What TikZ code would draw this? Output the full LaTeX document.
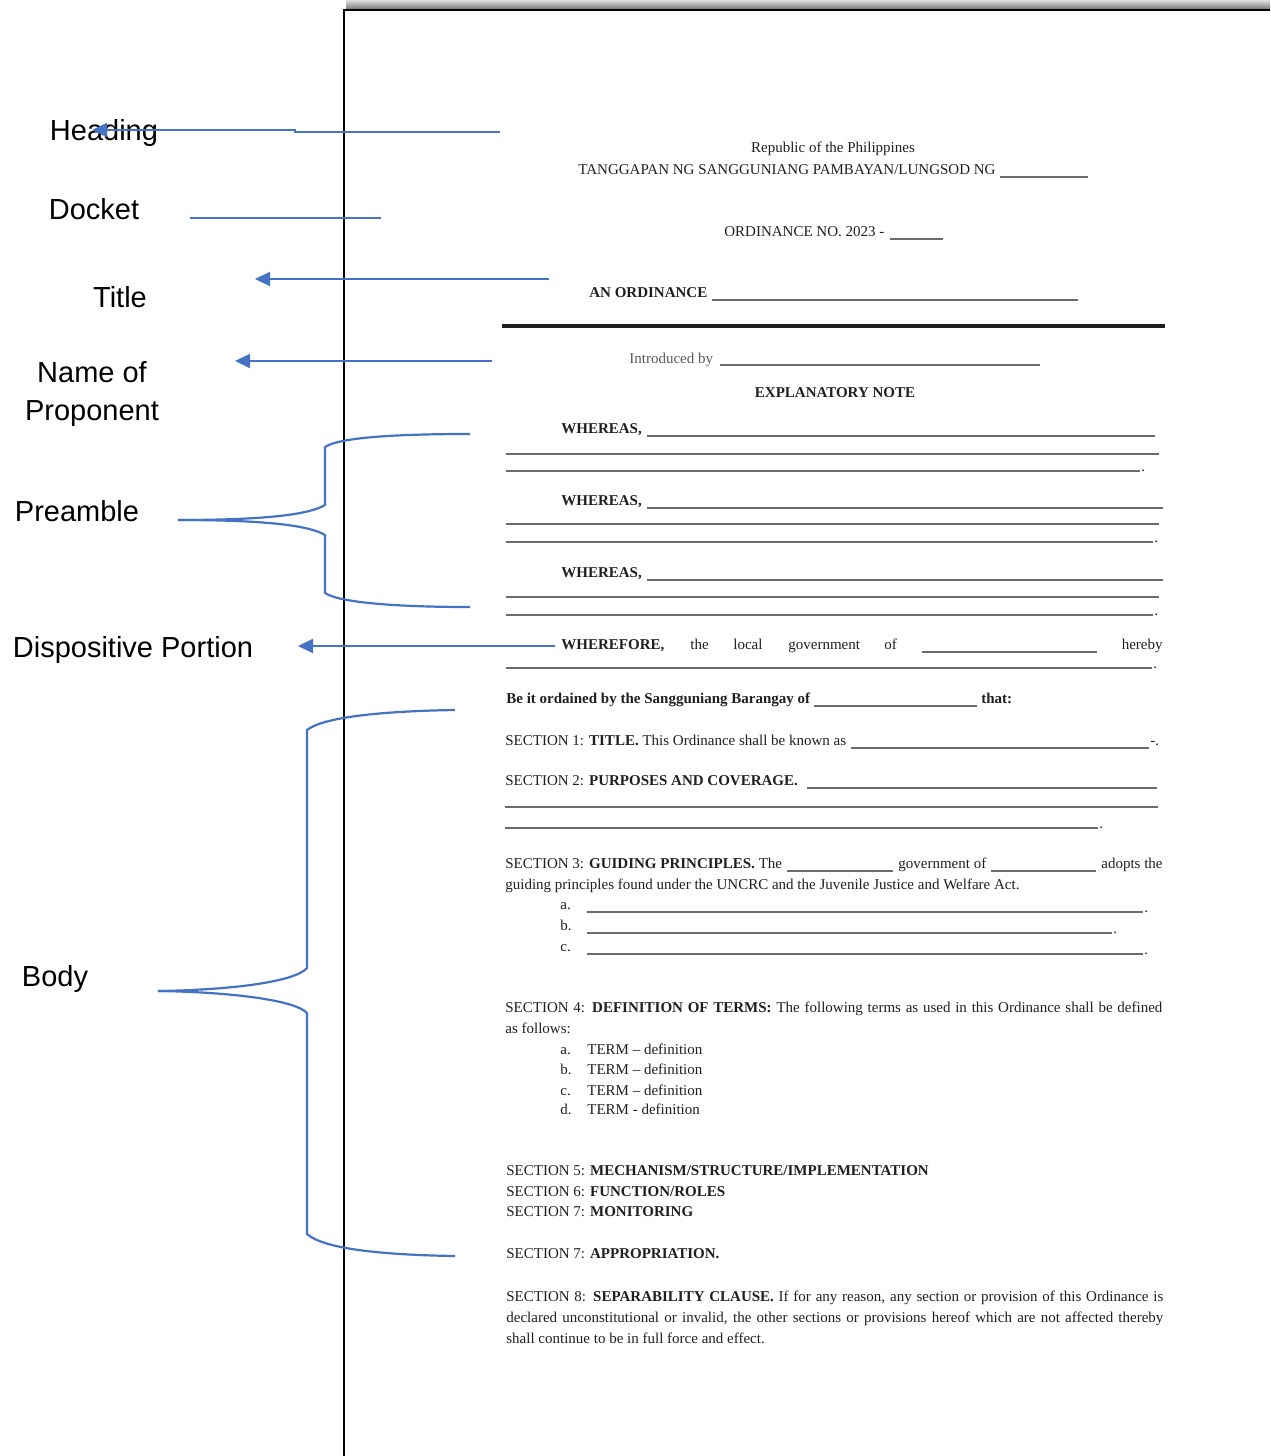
\documentclass[tikz,border=0pt]{standalone}
\usepackage{fontspec}
\setmainfont{Liberation Serif}
\newfontfamily\labelsans{Liberation Sans}
\usetikzlibrary{arrows.meta}
\definecolor{callblue}{HTML}{4472C4}
\definecolor{ink}{gray}{0.12}
\definecolor{rulegray}{gray}{0.42}
\newcommand{\docfont}{\fontsize{7.5}{9}\selectfont}
\newcommand{\tagfont}{\labelsans\fontsize{14.5}{18}\selectfont}
\newcommand{\justline}[1]{\makebox[328.5pt][s]{#1}}

\begin{document}
\begin{tikzpicture}[x=0.5pt,y=-0.5pt,
  tag/.style={font=\tagfont, text=black, inner sep=0pt, anchor=base},
  doc/.style={font=\docfont, text=ink, inner sep=0pt, anchor=base west},
  docb/.style={doc, font=\docfont\bfseries},
  docc/.style={doc, anchor=base},
  doce/.style={doc, anchor=base east},
  blank/.style={draw=rulegray, line width=0.75pt},
  callout/.style={draw=callblue, line width=1pt, -{Triangle[length=7.5pt,width=7pt]}},
  leader/.style={draw=callblue, line width=1pt},
  brace/.style={draw=callblue, line width=1.1pt, line join=round},
]
\useasboundingbox (0,0) rectangle (1270,1456);

% ---------- the ordinance sheet ----------
\shade[top color=black!12, bottom color=black!55] (346,0) rectangle (1270,9.5);
\draw[black, line width=1pt] (344,1456) -- (344,10) -- (1270,10);

% header
\node[docc] (rep) at (833,152) {Republic of the Philippines};
\node[doc] (tang) at (578,174) {TANGGAPAN NG SANGGUNIANG PAMBAYAN/LUNGSOD NG};
\draw[blank] (tang.base east) ++(4,3) -- (1088,177);
\node[doc] (ordno) at (724,236) {ORDINANCE NO. 2023 -};
\draw[blank] (ordno.base east) ++(5,3) -- (943,239);
\node[docb] (anord) at (589,297) {AN ORDINANCE};
\draw[blank] (anord.base east) ++(4,3) -- (1078,300);
\draw[ink, line width=1.6pt] (502,326) -- (1165,326);
\node[doc, text=black!65] (intro) at (629,363) {Introduced by};
\draw[blank] (intro.base east) ++(6,2) -- (1040,365);
\node[docc, font=\docfont\bfseries] (expl) at (835,397) {EXPLANATORY NOTE};

% whereas clauses
\node[docb] (wh1) at (561,433) {WHEREAS,};
\draw[blank] (wh1.base east) ++(5,3) -- (1155,436);
\draw[blank] (506,454) -- (1159,454);
\draw[blank] (506,471) -- (1140,471);
\node[doc] (dot1) at (1141,471) {.};

\node[docb] (wh2) at (561,505) {WHEREAS,};
\draw[blank] (wh2.base east) ++(5,3) -- (1163,508);
\draw[blank] (506,524) -- (1159,524);
\draw[blank] (506,542) -- (1153,542);
\node[doc] (dot2) at (1154,542) {.};

\node[docb] (wh3) at (561,577) {WHEREAS,};
\draw[blank] (wh3.base east) ++(5,3) -- (1163,580);
\draw[blank] (506,597) -- (1159,597);
\draw[blank] (506,615) -- (1153,615);
\node[doc] (dot3) at (1154,615) {.};

% wherefore
\node[docb] (wf) at (561,649) {WHEREFORE,};
\node[doc] (wf1) at (690,649) {the};
\node[doc] (wf2) at (733,649) {local};
\node[doc] (wf3) at (788,649) {government};
\node[doc] (wf4) at (884,649) {of};
\draw[blank] (922,652) -- (1097,652);
\node[doce] (wf5) at (1163,649) {hereby};
\draw[blank] (506,668) -- (1152,668);
\node[doc] (dot4) at (1153,668) {.};

\node[docb] (ordain) at (506,703) {Be it ordained by the Sangguniang Barangay of};
\draw[blank] (ordain.base east) ++(3,3) -- (977,706);
\node[docb] (that) at (981,703) {that:};

% sections
\node[doc] (s1) at (505,745) {SECTION 1: \textbf{TITLE.} This Ordinance shall be known as};
\draw[blank] (s1.base east) ++(4,3) -- (1149,748);
\node[doc] (s1e) at (1150,745) {-.};

\node[doc] (s2) at (505,785) {SECTION 2: \textbf{PURPOSES AND COVERAGE.}};
\draw[blank] (807,788) -- (1157,788);
\draw[blank] (505,807) -- (1158,807);
\draw[blank] (505,828) -- (1098,828);
\node[doc] (dot5) at (1099,828) {.};

\node[doc] (s3) at (505,868) {SECTION 3: \textbf{GUIDING PRINCIPLES.} The};
\draw[blank] (787,871) -- (893,871);
\node[doc] (s3b) at (898,868) {government of};
\draw[blank] (991,871) -- (1096,871);
\node[doce] (s3c) at (1163,868) {adopts the};
\node[doc] (s3d) at (505,889) {guiding principles found under the UNCRC and the Juvenile Justice and Welfare Act.};
\node[doc] (pa) at (560,909) {a.};
\draw[blank] (587,912) -- (1143,912);
\node[doc] (dot6) at (1144,912) {.};
\node[doc] (pb) at (560,930) {b.};
\draw[blank] (587,933) -- (1112,933);
\node[doc] (dot7) at (1113,933) {.};
\node[doc] (pc) at (560,951) {c.};
\draw[blank] (587,954) -- (1143,954);
\node[doc] (dot8) at (1144,954) {.};

\node[doc] (s4) at (505,1012) {\justline{SECTION 4: \textbf{DEFINITION OF TERMS:} The following terms as used in this Ordinance shall be defined}};
\node[doc] (s4b) at (505,1033) {as follows:};
\node[doc] (ta) at (560,1054) {a.};
\node[doc] (tat) at (587,1054) {TERM -- definition};
\node[doc] (tb) at (560,1074) {b.};
\node[doc] (tbt) at (587,1074) {TERM -- definition};
\node[doc] (tc) at (560,1095) {c.};
\node[doc] (tct) at (587,1095) {TERM -- definition};
\node[doc] (td) at (560,1114) {d.};
\node[doc] (tdt) at (587,1114) {TERM - definition};

\node[doc] (s5) at (506,1175) {SECTION 5: \textbf{MECHANISM/STRUCTURE/IMPLEMENTATION}};
\node[doc] (s6) at (506,1196) {SECTION 6: \textbf{FUNCTION/ROLES}};
\node[doc] (s7) at (506,1216) {SECTION 7: \textbf{MONITORING}};
\node[doc] (s7b) at (506,1258) {SECTION 7: \textbf{APPROPRIATION.}};

\node[doc] (s8a) at (506,1301) {\justline{SECTION 8: \textbf{SEPARABILITY CLAUSE.} If for any reason, any section or provision of this Ordinance is}};
\node[doc] (s8b) at (506,1322) {\justline{declared unconstitutional or invalid, the other sections or provisions hereof which are not affected thereby}};
\node[doc] (s8c) at (506,1343) {shall continue to be in full force and effect.};

% ---------- part labels and callouts ----------
\node[tag] (lHead) at (104,140) {Heading};
\node[tag] (lDock) at (94,219) {Docket};
\node[tag] (lTitle) at (120,307) {Title};
\node[tag] (lNameA) at (92,382) {Name of};
\node[tag] (lNameB) at (92,420) {Proponent};
\node[tag] (lPre) at (77,521) {Preamble};
\node[tag] (lDisp) at (133,657) {Dispositive Portion};
\node[tag] (lBody) at (55,986) {Body};

\coordinate (hSrc) at (500,132);
\coordinate (hTip) at (92,130);
\draw[callout] (hSrc) -- (295,132) -- (295,130) -- (hTip);

\coordinate (dkA) at (190,218);
\coordinate (dkB) at (381,218);
\draw[leader] (dkA) -- (dkB);

\coordinate (tSrc) at (549,279);
\coordinate (tTip) at (255,279);
\draw[callout] (tSrc) -- (tTip);

\coordinate (nSrc) at (492,361);
\coordinate (nTip) at (235,361);
\draw[callout] (nSrc) -- (nTip);

\coordinate (dpSrc) at (555,646);
\coordinate (dpTip) at (298,646);
\draw[callout] (dpSrc) -- (dpTip);

% preamble brace
\coordinate (prTip) at (178,520);
\coordinate (prTop) at (470,434);
\coordinate (prBot) at (470,607);
\draw[brace] (prTop) .. controls (400,434) and (340,437) .. (325,447) -- (325,505) .. controls (310,514) and (270,520) .. (prTip);
\draw[brace] (prTip) .. controls (270,520) and (310,526) .. (325,535) -- (325,593) .. controls (340,603) and (400,607) .. (prBot);

% body brace
\coordinate (bdTip) at (158,991);
\coordinate (bdTop) at (455,710);
\coordinate (bdBot) at (455,1256);
\draw[brace] (bdTop) .. controls (390,711) and (325,716) .. (307,730) -- (307,968) .. controls (295,982) and (230,990) .. (bdTip);
\draw[brace] (bdTip) .. controls (230,992) and (295,1000) .. (307,1013) -- (307,1234) .. controls (325,1250) and (390,1255) .. (bdBot);
\end{tikzpicture}
\end{document}
